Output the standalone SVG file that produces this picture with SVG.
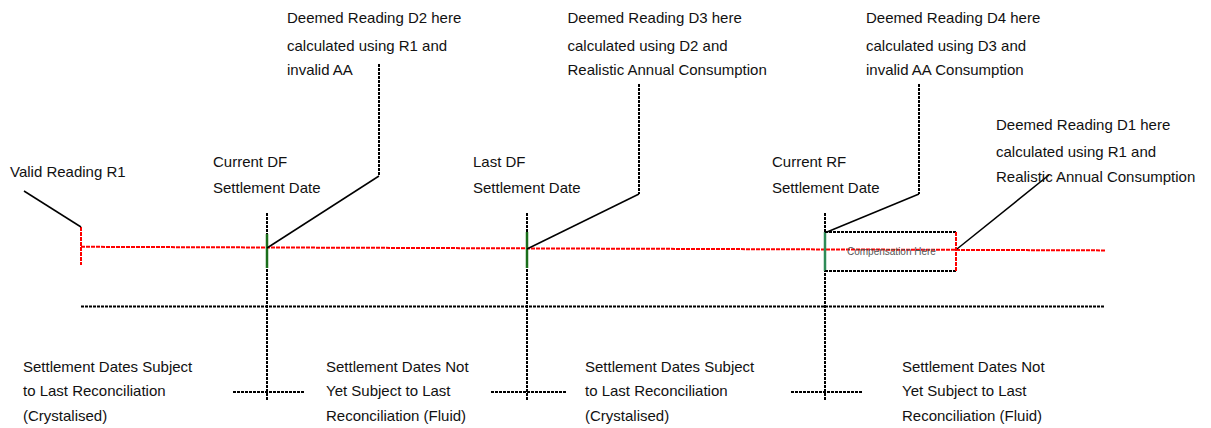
<svg xmlns="http://www.w3.org/2000/svg" width="1211" height="428" viewBox="0 0 1211 428">
  <style>
    text { font-family: "Liberation Sans", Arial, sans-serif; font-size: 15px; fill: #111; }
    .small { font-size: 10px; fill: #555; }
    .dotted { fill: none; stroke: #000; stroke-width: 2; stroke-dasharray: 3 1; }
    .red { fill: none; stroke: #f00; stroke-width: 2; stroke-dasharray: 4 1; }
    .green { fill: none; stroke: #1a6e1a; stroke-width: 2.5; }
    .leader { fill: none; stroke: #000; stroke-width: 1.5; }
  </style>
  <rect width="1211" height="428" fill="#fff"/>

  <!-- timeline axes and settlement date markers -->
  <g id="connectors">
    <!-- reading timeline (red) -->
    <path class="red" d="M81,246.8 L1106,250.4"/>
    <path class="red" d="M81,227 V265"/>
    <!-- settlement date axis -->
    <path class="dotted" d="M81,306.5 H1104"/>
    <!-- settlement date verticals -->
    <path class="dotted" d="M267,213 V400"/>
    <path class="dotted" d="M527,213 V400"/>
    <path class="dotted" d="M825,213 V400"/>
    <!-- period boundary ticks -->
    <path class="dotted" d="M233,392 H305"/>
    <path class="dotted" d="M491,392 H566"/>
    <path class="dotted" d="M791,392 H863"/>
    <!-- green highlights where the reading timeline crosses each date -->
    <path class="green" d="M267,234 V268"/>
    <path class="green" d="M527,232 V268"/>
    <path class="green" style="stroke:#2e8b57" d="M825,232 V271"/>
    <!-- leader lines -->
    <path class="leader" d="M24,191 L81,227"/>
    <path class="dotted" d="M379,64 V176"/>
    <path class="leader" d="M379,176 L267,248"/>
    <path class="dotted" d="M639,84 V194"/>
    <path class="leader" d="M639,194 L527,249"/>
    <path class="dotted" d="M919,84 V194"/>
    <path class="leader" d="M919,194 L827,232"/>
    <path class="leader" d="M1049,175 L957,249"/>
  </g>

  <g id="compensation">
    <path class="dotted" d="M825,232 H956 M825,271 H956"/>
    <path class="red" d="M956,232 V271"/>
    <text class="small" x="847" y="255">Compensation Here</text>
  </g>

  <g id="valid-reading-r1">
    <text x="10" y="177">Valid Reading R1</text>
  </g>

  <g id="current-df">
    <text x="213" y="166.7">Current DF</text>
    <text x="213" y="192.7">Settlement Date</text>
  </g>

  <g id="last-df">
    <text x="473" y="166.7">Last DF</text>
    <text x="473" y="192.7">Settlement Date</text>
  </g>

  <g id="current-rf">
    <text x="772" y="166.7">Current RF</text>
    <text x="772" y="192.7">Settlement Date</text>
  </g>

  <g id="deemed-d2">
    <text x="287" y="23">Deemed Reading D2 here</text>
    <text x="287" y="51">calculated using R1 and</text>
    <text x="287" y="74.5">invalid AA</text>
  </g>

  <g id="deemed-d3">
    <text x="567.5" y="23">Deemed Reading D3 here</text>
    <text x="567.5" y="51">calculated using D2 and</text>
    <text x="567.5" y="74.5">Realistic Annual Consumption</text>
  </g>

  <g id="deemed-d4">
    <text x="866" y="23">Deemed Reading D4 here</text>
    <text x="866" y="51">calculated using D3 and</text>
    <text x="866" y="74.5">invalid AA Consumption</text>
  </g>

  <g id="deemed-d1">
    <text x="996" y="129.5">Deemed Reading D1 here</text>
    <text x="996" y="157">calculated using R1 and</text>
    <text x="996" y="181.5">Realistic Annual Consumption</text>
  </g>

  <g id="period-crystalised-1">
    <text x="23" y="371.5">Settlement Dates Subject</text>
    <text x="23" y="396">to Last Reconciliation</text>
    <text x="23" y="420.5">(Crystalised)</text>
  </g>

  <g id="period-fluid-1">
    <text x="326" y="371.5">Settlement Dates Not</text>
    <text x="326" y="396">Yet Subject to Last</text>
    <text x="326" y="420.5">Reconciliation (Fluid)</text>
  </g>

  <g id="period-crystalised-2">
    <text x="585" y="371.5">Settlement Dates Subject</text>
    <text x="585" y="396">to Last Reconciliation</text>
    <text x="585" y="420.5">(Crystalised)</text>
  </g>

  <g id="period-fluid-2">
    <text x="902" y="371.5">Settlement Dates Not</text>
    <text x="902" y="396">Yet Subject to Last</text>
    <text x="902" y="420.5">Reconciliation (Fluid)</text>
  </g>
</svg>
